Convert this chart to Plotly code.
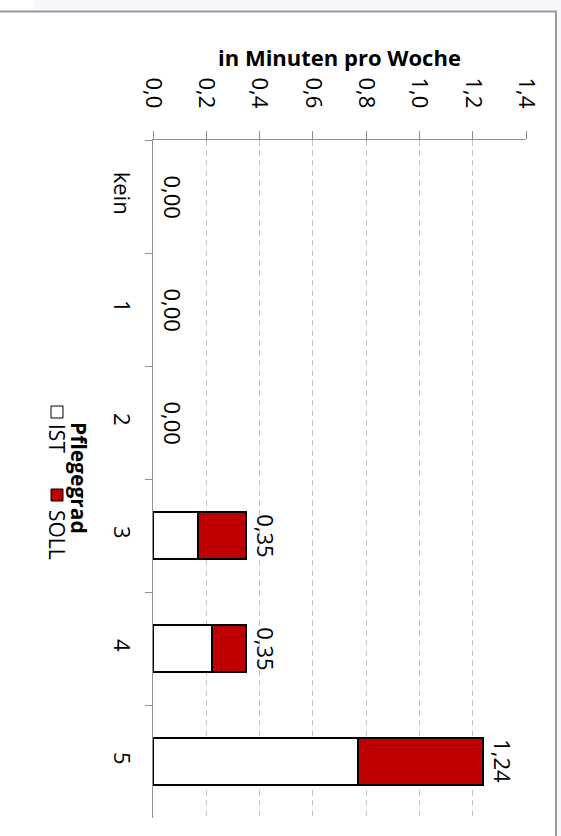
import plotly.graph_objects as go

# ---- data ----
categories = ["kein", "1", "2", "3", "4", "5"]
ist_values = [0.0, 0.0, 0.0, 0.17, 0.22, 0.77]
soll_values = [0.0, 0.0, 0.0, 0.18, 0.13, 0.47]
x_ticks = [0, 0.2, 0.4, 0.6, 0.8, 1.0, 1.2, 1.4]
series_names = ["IST", "SOLL"]
axis_title = "in Minuten pro Woche"
legend_title = "Pflegegrad"

totals = [round(a + b, 2) for a, b in zip(ist_values, soll_values)]
total_labels = [f"{t:.2f}".replace(".", ",") for t in totals]

# ---- style / layout ----
FONT = "Open Sans"
W, H = 561, 836
L, R, T, B = 153, 526, 140, 818
RED = "#c00000"
AXIS = "#909090"


def px_x(p):
    return (p - L) / (R - L)


def px_y(p):
    return (B - p) / (B - T)


def line_widths(vals):
    return [0 if v == 0 else 1.8 for v in vals]


fig = go.Figure()
fig.add_bar(y=categories, x=ist_values, orientation="h", name=series_names[0],
            marker=dict(color="white", line=dict(color="black", width=line_widths(ist_values))),
            width=0.41)
fig.add_bar(y=categories, x=soll_values, orientation="h", name=series_names[1],
            marker=dict(color=RED, line=dict(color="black", width=line_widths(soll_values))),
            width=0.41)

annotations = []
for c, t, lab in zip(categories, totals, total_labels):
    annotations.append(dict(x=t, y=c, xref="x", yref="y", text=lab, textangle=90,
                            xanchor="center", yanchor="middle", xshift=20, showarrow=False,
                            font=dict(size=22, family=FONT, color="black")))

annotations.append(dict(x=px_x(339), y=px_y(57), xref="paper", yref="paper",
                        text="<b>" + axis_title + "</b>", showarrow=False,
                        xanchor="center", yanchor="middle",
                        font=dict(size=22, family=FONT, color="black")))
annotations.append(dict(x=px_x(79), y=px_y(478), xref="paper", yref="paper",
                        text="<b>" + legend_title + "</b>", showarrow=False, textangle=90,
                        xanchor="center", yanchor="middle",
                        font=dict(size=21, family=FONT, color="black")))
annotations.append(dict(x=px_x(57), y=px_y(438), xref="paper", yref="paper",
                        text=series_names[0], showarrow=False, textangle=90,
                        xanchor="center", yanchor="middle",
                        font=dict(size=21, family=FONT, color="black")))
annotations.append(dict(x=px_x(57), y=px_y(535), xref="paper", yref="paper",
                        text=series_names[1], showarrow=False, textangle=90,
                        xanchor="center", yanchor="middle",
                        font=dict(size=21, family=FONT, color="black")))

shapes = [
    # page background bands and frame
    dict(type="rect", xref="paper", yref="paper", x0=px_x(33), x1=px_x(561), y0=px_y(0), y1=px_y(11),
         fillcolor="#f7f8fd", line=dict(width=0), layer="below"),
    dict(type="rect", xref="paper", yref="paper", x0=px_x(557), x1=px_x(561), y0=px_y(11), y1=px_y(836),
         fillcolor="#f7f8fd", line=dict(width=0), layer="below"),
    dict(type="line", xref="paper", yref="paper", x0=px_x(0), x1=px_x(557), y0=px_y(11.5), y1=px_y(11.5),
         line=dict(color="#9a9a9a", width=2)),
    dict(type="line", xref="paper", yref="paper", x0=px_x(556), x1=px_x(556), y0=px_y(11), y1=px_y(836),
         line=dict(color="#9a9a9a", width=2)),
    # legend keys
    dict(type="rect", xref="paper", yref="paper", x0=px_x(51), x1=px_x(63), y0=px_y(406), y1=px_y(418),
         fillcolor="white", line=dict(color="black", width=1)),
    dict(type="rect", xref="paper", yref="paper", x0=px_x(51), x1=px_x(63), y0=px_y(489), y1=px_y(501),
         fillcolor=RED, line=dict(color="black", width=1)),
]

fig.update_layout(
    width=W, height=H,
    margin=dict(l=L, r=W - R, t=T, b=H - B, pad=0),
    barmode="stack", showlegend=False,
    plot_bgcolor="white", paper_bgcolor="white",
    separators=",.",
    font=dict(family=FONT, size=22, color="black"),
    xaxis=dict(side="top", range=[0, 1.4], tickvals=x_ticks, tickformat=".1f", tickangle=90,
               ticks="outside", ticklen=8, tickcolor=AXIS, showline=True, linecolor=AXIS, linewidth=1,
               showgrid=True, gridcolor="#c4c4c4", griddash="6px,4px", gridwidth=1, zeroline=False,
               ticklabelstandoff=15, fixedrange=True, tickfont=dict(size=22)),
    yaxis=dict(categoryorder="array", categoryarray=categories, autorange="reversed", tickangle=90,
               ticks="outside", tickson="boundaries", ticklen=7, tickcolor=AXIS, showline=True,
               linecolor=AXIS, linewidth=1, showgrid=False, zeroline=False, ticklabelstandoff=12,
               fixedrange=True, tickfont=dict(size=22)),
    annotations=annotations,
    shapes=shapes,
)

fig.write_html("out.html", config={"displayModeBar": False},
               post_script="document.body.style.margin='0px';document.body.style.overflow='hidden';")
